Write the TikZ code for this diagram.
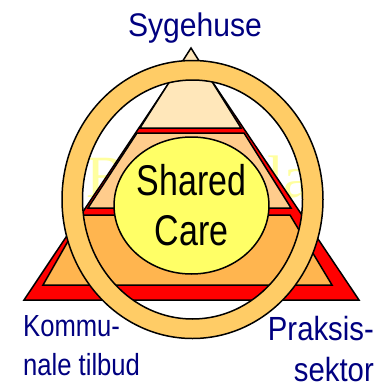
\documentclass[tikz,border=0pt]{standalone}
\usepackage{fontspec}
\setmainfont{Liberation Sans}
\newfontfamily\shcfont[FakeStretch=0.79]{Liberation Sans}
\newfontfamily\sygfont[FakeStretch=0.92]{Liberation Sans}
\newfontfamily\komfont[FakeStretch=0.84]{Liberation Sans}
\newfontfamily\prafont[FakeStretch=0.875]{Liberation Sans}
\newfontfamily\wmfont{Liberation Serif}
\usetikzlibrary{shapes.geometric}
\definecolor{navyc}{RGB}{0,0,128}
\definecolor{redc}{RGB}{255,0,0}
\definecolor{toplay}{RGB}{255,231,186}
\definecolor{midlay}{RGB}{255,204,140}
\definecolor{botlay}{RGB}{255,181,79}
\definecolor{ringc}{RGB}{255,204,102}
\definecolor{yelc}{RGB}{255,255,102}
\definecolor{wmc}{RGB}{255,255,160}
\begin{document}
\begin{tikzpicture}[x=1pt,y=-1pt,
  outl/.style={draw=black,line width=1.5pt,line join=miter},
  wm/.style={text=wmc,font=\wmfont\fontsize{60}{60}\selectfont,inner sep=0pt},
  lbl/.style={text=navyc,inner sep=0pt}]
\useasboundingbox (0,0) rectangle (385,388);
% faint background text
\node[wm,anchor=base west] (wmB) at (86,197) {B};
\node[wm,anchor=base west] (wmLa) at (267,197) {la};
% red triangle
\draw[outl,fill=redc] (191,50) -- (359,300) -- (24,300) -- cycle;
% layers
\draw[outl,fill=toplay] (191,48) -- (241,128) -- (140,128) -- cycle;
\draw[outl,fill=midlay] (137,133) -- (244,133) -- (291,208) -- (88,208) -- cycle;
\draw[outl,fill=botlay] (83,215) -- (290,215) -- (332,285) -- (43,285) -- cycle;
% core
\node[ellipse,outl,fill=yelc,minimum width=149pt,minimum height=137pt,inner sep=0pt,
  align=center,font=\shcfont\fontsize{43}{50}\selectfont] (core) at (191.5,205.5) {Shared\\Care};
% ring
\draw[outl,fill=ringc,even odd rule]
  (192.5,199.5) ellipse [x radius=130.5,y radius=139]
  (192.5,199.5) ellipse [x radius=110,y radius=119.5];
% labels
\node[lbl,anchor=north,font=\sygfont\fontsize{32.7}{38}\selectfont] (syg) at (195,13) {Sygehuse};
\node[lbl,anchor=north west,align=left,font=\komfont\fontsize{30.5}{39}\selectfont] (kom) at (23,315) {Kommu-\\nale tilbud};
\node[lbl,anchor=north east,align=right,font=\prafont\fontsize{33.5}{41}\selectfont] (pra) at (374,316) {Praksis-\\sektor};
\end{tikzpicture}
\end{document}
